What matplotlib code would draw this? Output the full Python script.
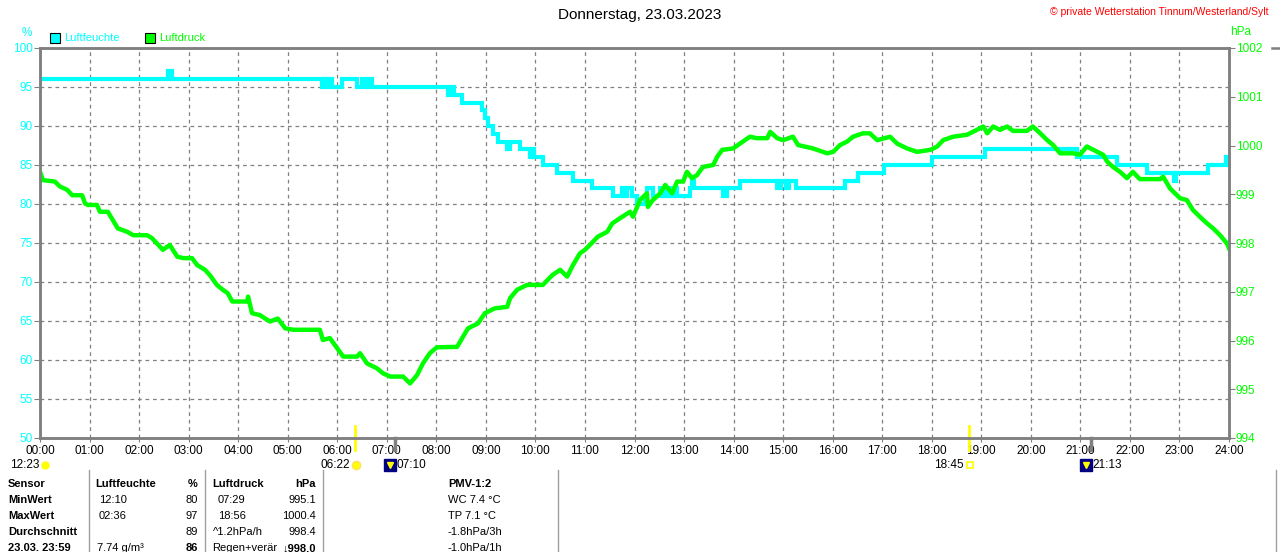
import matplotlib.pyplot as plt
from matplotlib.lines import Line2D

# --- data (hours since midnight) ---
hum_t = [0.00, 2.58, 2.66, 5.69, 5.75, 5.80, 5.85, 5.90, 6.10, 6.40, 6.50, 6.58, 6.62, 6.70,
         8.24, 8.30, 8.36, 8.52, 8.92, 8.98, 9.04, 9.14, 9.25, 9.42, 9.48, 9.69, 9.89, 9.93,
         9.97, 10.15, 10.44, 10.76, 11.14, 11.57, 11.75, 11.80, 11.85, 11.95, 12.05, 12.21,
         12.25, 12.37, 12.52, 12.60, 12.65, 12.72, 12.80, 12.85, 13.12, 13.16, 13.20, 13.79,
         13.87, 14.13, 14.88, 14.95, 15.05, 15.12, 15.25, 16.25, 16.51, 17.04, 18.01, 19.08,
         20.93, 21.74, 22.35, 22.88, 22.94, 23.58, 23.94, 24.00]
hum_v = [96, 97, 96, 95, 96, 95, 96, 95, 96, 95, 96, 95, 96, 95,
         94, 95, 94, 93, 92, 91, 90, 89, 88, 87, 88, 87, 86, 87,
         86, 85, 84, 83, 82, 81, 82, 81, 82, 81, 80, 81,
         82, 81, 82, 81, 82, 81, 82, 81, 82, 83, 82, 81,
         82, 83, 82, 83, 82, 83, 82, 83, 84, 85, 86, 87,
         86, 85, 84, 83, 84, 85, 86, 86]

press_t = [0.00, 0.06, 0.30, 0.40, 0.55, 0.65, 0.85, 0.91, 0.97, 1.15, 1.21, 1.37, 1.47, 1.57,
           1.76, 1.88, 2.16, 2.26, 2.36, 2.48, 2.62, 2.77, 2.89, 3.07, 3.17, 3.33, 3.43, 3.57,
           3.69, 3.79, 3.88, 4.18, 4.20, 4.28, 4.44, 4.64, 4.80, 4.95, 5.11, 5.65, 5.71, 5.85,
           6.00, 6.12, 6.40, 6.46, 6.60, 6.80, 6.92, 7.07, 7.33, 7.47, 7.61, 7.73, 7.87, 8.01,
           8.42, 8.54, 8.64, 8.84, 8.98, 9.18, 9.43, 9.49, 9.63, 9.83, 10.15, 10.34, 10.50,
           10.64, 10.76, 10.90, 11.00, 11.10, 11.26, 11.45, 11.55, 11.71, 11.91, 11.97, 12.11,
           12.25, 12.27, 12.37, 12.52, 12.62, 12.76, 12.86, 12.98, 13.06, 13.16, 13.26, 13.38,
           13.59, 13.67, 13.77, 13.99, 14.13, 14.33, 14.47, 14.68, 14.74, 14.88, 15.00, 15.20,
           15.30, 15.60, 15.89, 16.01, 16.15, 16.29, 16.41, 16.61, 16.75, 16.90, 17.16, 17.30,
           17.50, 17.70, 17.97, 18.11, 18.23, 18.43, 18.71, 18.91, 19.04, 19.12, 19.24, 19.38,
           19.52, 19.64, 19.92, 20.04, 20.19, 20.33, 20.45, 20.59, 20.85, 20.99, 21.13, 21.34,
           21.46, 21.54, 21.66, 21.80, 21.94, 22.06, 22.20, 22.61, 22.67, 22.81, 23.01, 23.15,
           23.27, 23.41, 23.56, 23.68, 23.82, 23.96, 24.00]
press_v = [999.46, 999.29, 999.26, 999.16, 999.09, 998.98, 998.98, 998.81, 998.78, 998.78,
           998.64, 998.64, 998.47, 998.30, 998.23, 998.16, 998.16, 998.10, 997.99, 997.86,
           997.96, 997.72, 997.69, 997.69, 997.55, 997.45, 997.34, 997.14, 997.04, 996.97,
           996.80, 996.80, 996.90, 996.56, 996.52, 996.39, 996.45, 996.25, 996.22, 996.22,
           996.01, 996.05, 995.84, 995.67, 995.67, 995.74, 995.53, 995.43, 995.33, 995.26,
           995.26, 995.12, 995.29, 995.53, 995.74, 995.86, 995.87, 996.08, 996.25, 996.35,
           996.56, 996.66, 996.69, 996.87, 997.04, 997.14, 997.14, 997.34, 997.45, 997.31,
           997.55, 997.79, 997.86, 997.96, 998.13, 998.23, 998.40, 998.51, 998.64, 998.54,
           998.88, 999.02, 998.74, 998.88, 999.02, 999.19, 999.02, 999.26, 999.26, 999.46,
           999.33, 999.39, 999.56, 999.60, 999.77, 999.91, 999.94, 1000.04, 1000.18, 1000.15,
           1000.15, 1000.28, 1000.15, 1000.11, 1000.18, 1000.01, 999.94, 999.84, 999.87,
           1000.01, 1000.08, 1000.18, 1000.25, 1000.25, 1000.11, 1000.18, 1000.04, 999.94,
           999.87, 999.91, 999.98, 1000.11, 1000.18, 1000.22, 1000.32, 1000.39, 1000.25,
           1000.39, 1000.32, 1000.39, 1000.30, 1000.30, 1000.39, 1000.25, 1000.11, 1000.01,
           999.84, 999.84, 999.81, 999.98, 999.87, 999.81, 999.67, 999.56, 999.46, 999.33,
           999.46, 999.31, 999.31, 999.36, 999.12, 998.92, 998.88, 998.68, 998.54, 998.40,
           998.30, 998.16, 997.99, 997.89]

hour_labels = ["%02d:00" % h for h in range(25)]
hum_ticks = list(range(50, 101, 5))
press_ticks = list(range(994, 1003))

# sun / moon events below the axis
sunrise, sunset = 6 + 22 / 60, 18 + 45 / 60
moonrise, moonset = 7 + 10 / 60, 21 + 13 / 60

table_rows = [
    ("Sensor", "Luftfeuchte", "%", "Luftdruck", "hPa", "PMV-1:2"),
    ("MinWert", "12:10", "80", "07:29", "995.1", "WC 7.4 °C"),
    ("MaxWert", "02:36", "97", "18:56", "1000.4", "TP 7.1 °C"),
    ("Durchschnitt", "", "89", "^1.2hPa/h", "998.4", "-1.8hPa/3h"),
    ("23.03. 23:59", "7.74 g/m³", "86", "Regen+verär", "↓998.0", "-1.0hPa/1h"),
]

CYAN = '#00ffff'
GREEN = '#00ff00'
GRAY = '#808080'
W, H = 1280, 552

plt.rcParams['font.family'] = ['Liberation Sans', 'DejaVu Sans']

fig = plt.figure(figsize=(W / 100, H / 100), dpi=100)
ax = fig.add_axes([40 / W, 1 - 438 / H, 1189 / W, 390 / H])
ax2 = ax.twinx()

ax.step(hum_t, hum_v, where='post', color=CYAN, lw=3, solid_joinstyle='miter')
ax2.plot(press_t, press_v, color=GREEN, lw=3.2)

ax.set_xlim(0, 24)
ax.set_ylim(50, 100)
ax2.set_ylim(994, 1002)
ax.set_xticks(range(25))
ax.set_xticklabels(hour_labels)
ax.set_yticks(hum_ticks)
ax2.set_yticks(press_ticks)

ax.grid(True, color=GRAY, ls=(0, (3, 3)), lw=0.9)
ax.set_axisbelow(True)
for a in (ax, ax2):
    for s in a.spines.values():
        s.set_color(GRAY)
        s.set_linewidth(1.8)
ax.tick_params(axis='x', colors=GRAY, labelcolor='black', labelsize=8.5, length=3, pad=2)
ax.tick_params(axis='y', colors=GRAY, labelcolor=CYAN, labelsize=8.5, length=4, pad=1)
ax2.tick_params(axis='y', colors=GRAY, labelcolor=GREEN, labelsize=8.5, length=4, pad=1)

# header texts
fig.text(640 / W, 1 - 15 / H, "Donnerstag, 23.03.2023", ha='center', va='center', fontsize=11)
fig.text(1268 / W, 1 - 12 / H, "© private Wetterstation Tinnum/Westerland/Sylt",
         ha='right', va='center', fontsize=7.5, color='red')
fig.text(27 / W, 1 - 33 / H, "%", ha='center', va='center', fontsize=8.5, color=CYAN)
fig.text(1241 / W, 1 - 32 / H, "hPa", ha='center', va='center', fontsize=8.5, color=GREEN)

# legend boxes
for x0, col, name in [(50, CYAN, "Luftfeuchte"), (145, GREEN, "Luftdruck")]:
    fig.add_artist(plt.Rectangle((x0 / W, 1 - 43 / H), 10 / W, 10 / H, facecolor=col,
                                 edgecolor='black', lw=0.8, transform=fig.transFigure))
    fig.text((x0 + 14) / W, 1 - 38 / H, name, ha='left', va='center', fontsize=8, color=col)

# piece of the neighbouring panel at the right edge
fig.add_artist(Line2D([1272 / W, 1.0], [1 - 48 / H] * 2, color=GRAY, lw=1.8,
                      transform=fig.transFigure))

# sun and moon markers
xt = ax.get_xaxis_transform()
lab_y = -27 / 390
for t in (sunrise, sunset):
    ax.plot([t, t], [12 / 390, -12 / 390], color='yellow', lw=2, transform=xt, clip_on=False)
for t in (moonrise, moonset):
    ax.plot([t, t], [0, -12 / 390], color=GRAY, lw=2.5, transform=xt, clip_on=False)
ax.plot([sunrise + 0.02], [lab_y], marker='o', ms=6, color='yellow', mec='#ffe060',
        transform=xt, clip_on=False)
ax.text(sunrise - 0.1, lab_y, "06:22", ha='right', va='center', fontsize=8.5, transform=xt)
ax.plot([sunset + 0.02], [lab_y], marker='s', ms=5, mfc='none', mec='yellow', mew=1.2,
        transform=xt, clip_on=False)
ax.text(sunset - 0.1, lab_y, "18:45", ha='right', va='center', fontsize=8.5, transform=xt)
for t, lab in ((moonrise, "07:10"), (moonset, "21:13")):
    ax.plot([t - 0.1], [lab_y], marker='s', ms=8, color='#000080', transform=xt, clip_on=False)
    ax.plot([t - 0.1], [lab_y], marker='v', ms=4, color='yellow', transform=xt, clip_on=False)
    ax.text(t + 0.02, lab_y, lab, ha='left', va='center', fontsize=8.5, transform=xt)
fig.text(10 / W, 1 - 465 / H, "12:23", ha='left', va='center', fontsize=8.5)
ax.plot([0.1], [lab_y], marker='o', ms=5, color='yellow', transform=xt, clip_on=False)

# table below the chart
for xs in (89, 205, 323, 558, 1276):
    fig.add_artist(Line2D([xs / W, xs / W], [1 - 470 / H, 0], color='#a0a0a0', lw=1,
                          transform=fig.transFigure))
cols = [(8, 'left'), (99, 'left'), (198, 'right'), (218, 'left'), (316, 'right'), (448, 'left')]
for r, row in enumerate(table_rows):
    y = 1 - (484 + 16 * r) / H
    for c, txt in enumerate(row):
        x, ha = cols[c]
        bold = r == 0 or c == 0 or (r == 4 and c in (2, 4))
        if r == 0 and c in (1, 3):
            x -= 4 if c == 1 else 6
        if r == 3 and c == 3:
            x = 213
        if r == 4 and c == 1:
            x = 97
        if r == 4 and c == 3:
            x = 212
        fig.text(x / W, y, txt, ha=ha, va='center', fontsize=8,
                 fontweight='bold' if bold else 'normal')

plt.savefig('out.png', dpi=100)
